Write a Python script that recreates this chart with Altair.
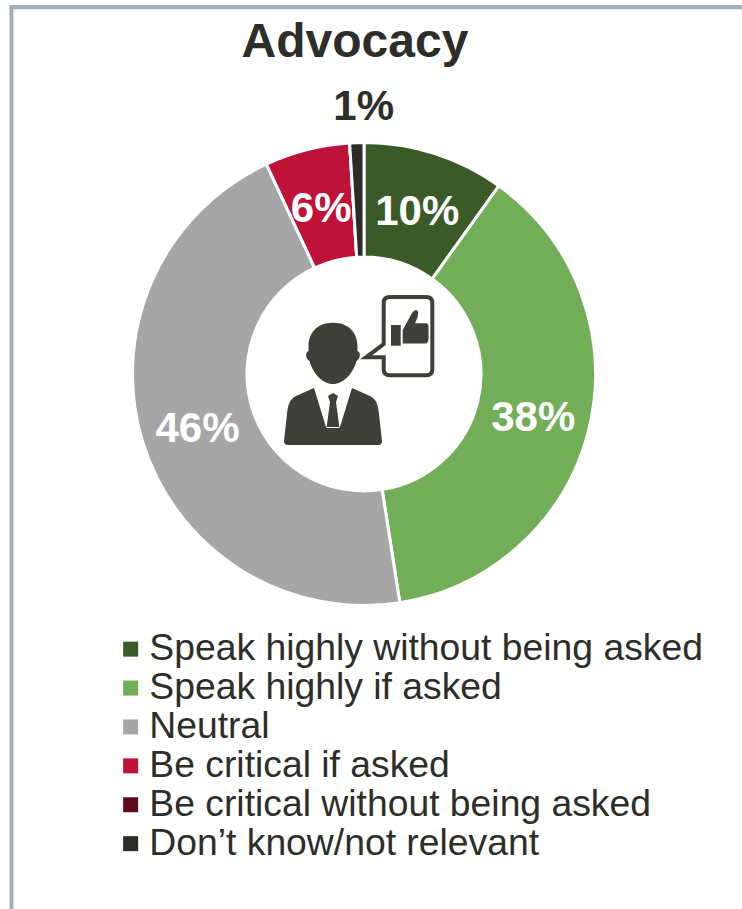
import re
import altair as alt

# Survey answers, in the order the ring runs clockwise from twelve o'clock
heading = "Advocacy"
categories = [
    "Speak highly without being asked",
    "Speak highly if asked",
    "Neutral",
    "Be critical if asked",
    "Be critical without being asked",
    "Don\u2019t know/not relevant",
]
shares = [10, 38, 46, 6, 0, 1]
colors = ["#3a5a28", "#72ad57", "#a6a6a6", "#bf1238", "#600a1e", "#2b2b27"]

INK = "#2d2d29"
ICON = "#3f3f39"
FRAME = "#a5adb8"
CX, CY = 364, 374
ICON_X, ICON_Y = 358, 383


def symbol_path(path):
    """Turn a path drawn in page pixels into symbol units around the icon origin."""
    def shift(m):
        return f"{(float(m[1]) - ICON_X) / 100:.4f},{(float(m[2]) - ICON_Y) / 100:.4f}"
    return re.sub(r"(-?[\d.]+),(-?[\d.]+)", shift, path)


person = (
    # head and ears
    "M333,322.7 C350,322.7 357.5,334 357.5,346 L357.5,351 C361,352 360.5,359 356.5,361 "
    "C353,374 343,384 333,384 C323,384 313,374 309.5,361 C305.5,359 305,352 308.5,351 "
    "L308.5,346 C308.5,334 316,322.7 333,322.7 Z "
    # jacket with the open collar
    "M314,388 L296,396 C289,400 288,405 287,414 L284,441 Q284,445 288,445 L378,445 "
    "Q382,445 382,441 L379,414 C378,405 377,400 370,396 L352,388 L340,427 L326,427 Z "
    # tie
    "M333,393 L338,396 L336,402 L339.5,428 L326.5,428 L330,402 L328,396 Z"
)
hand = (
    "M391,325 L400.7,325 L400.7,345.7 L391,345.7 Z "
    "M402.7,330 L411.7,313.5 Q415,308 417.7,311 Q419.5,314 415,323.3 L426.5,323.3 "
    "Q429,324 428.5,328 L428.5,339 Q428,343.5 425,343.5 L402.7,343.5 Z"
)
bubble = (
    "M389.7,297 L426.3,297 Q432.3,297 432.3,303 L432.3,369.3 Q432.3,375.3 426.3,375.3 "
    "L389.7,375.3 Q383.7,375.3 383.7,369.3 L383.7,357.3 L366,357.3 L383.7,344 L383.7,303 "
    "Q383.7,297 389.7,297 Z"
)

rows = [
    {"answer": c, "value": v, "order": i}
    for i, (c, v) in enumerate(zip(categories, shares))
]

base = (
    alt.Chart(alt.Data(values=rows))
    .transform_stack(
        stack="value", as_=["v0", "v1"], groupby=[], sort=[alt.SortField("order")]
    )
    .transform_calculate(mid="(datum.v0 + datum.v1) / 2", label="datum.value + '%'")
)
theta_scale = alt.Scale(domain=[0, sum(shares)])
center = {"x": alt.value(CX), "y": alt.value(CY)}

ring = base.mark_arc(
    radius=231.5, radius2=117, stroke="white", strokeWidth=3
).encode(
    theta=alt.Theta("v0:Q", scale=theta_scale, stack=None),
    theta2="v1:Q",
    color=alt.Color(
        "answer:N",
        scale=alt.Scale(domain=categories, range=colors),
        legend=alt.Legend(
            title=None,
            orient="none",
            legendX=112,
            legendY=630.5,
            symbolType="square",
            symbolSize=225,
            symbolStrokeWidth=0,
            labelFont="Liberation Sans",
            labelFontSize=37.3,
            labelColor=INK,
            labelLimit=700,
            labelOffset=0,
            rowPadding=0.9,
        ),
    ),
    **center,
)


def share_labels(keep, radius, color, dx, dy):
    return (
        base.transform_filter(keep)
        .mark_text(
            radius=radius,
            dx=dx,
            dy=dy,
            font="Liberation Sans",
            fontSize=42,
            fontWeight="bold",
            fill=color,
            baseline="middle",
            align="center",
        )
        .encode(
            theta=alt.Theta("mid:Q", scale=theta_scale, stack=None),
            text="label:N",
            **center,
        )
    )


inside = share_labels("datum.value > 1", 174, "white", 0, 4)
outside = share_labels("datum.value > 0 && datum.value <= 1", 268, INK, 8, 1)

# Chart heading, centred over the ring
title_text = alt.Chart().mark_text(
    text=heading,
    font="Liberation Sans",
    fontSize=48,
    fontWeight="bold",
    fill=INK,
    align="center",
    baseline="alphabetic",
).encode(x=alt.value(355), y=alt.value(57))

# Person with a thumbs-up speech bubble in the middle of the ring
icon_anchor = {"x": alt.value(ICON_X), "y": alt.value(ICON_Y)}
icon_data = alt.Data(values=[{"part": "icon"}])
icon_fill = alt.Chart(icon_data).mark_point(
    shape=symbol_path(person + " " + hand),
    size=40000,
    filled=True,
    fill=ICON,
    opacity=1,
    strokeWidth=0,
).encode(**icon_anchor)
icon_line = alt.Chart(icon_data).mark_point(
    shape=symbol_path(bubble),
    size=40000,
    filled=False,
    stroke=ICON,
    strokeWidth=4,
    opacity=1,
).encode(**icon_anchor)

# Panel border along the top and left edges
frame_top = alt.Chart().mark_rule(color=FRAME, strokeWidth=4).encode(
    x=alt.value(9.5), x2=alt.value(742), y=alt.value(7)
)
frame_left = alt.Chart().mark_rule(color=FRAME, strokeWidth=4).encode(
    x=alt.value(11.5), y=alt.value(5), y2=alt.value(909)
)
halo_top = alt.Chart().mark_rule(color="#e6e9ed", strokeWidth=1).encode(
    x=alt.value(13.5), x2=alt.value(742), y=alt.value(9.5)
)
halo_left = alt.Chart().mark_rule(color="#e6e9ed", strokeWidth=1).encode(
    x=alt.value(14), y=alt.value(9), y2=alt.value(909)
)

chart = (
    alt.layer(
        frame_top, frame_left, halo_top, halo_left, title_text,
        ring, inside, outside, icon_fill, icon_line,
    )
    .properties(
        width=742,
        height=909,
        padding=0,
        background="white",
        autosize=alt.AutoSizeParams(type="none"),
    )
    .configure_view(stroke=None)
)

chart.save("out.html", embed_options={"renderer": "svg", "actions": False})
